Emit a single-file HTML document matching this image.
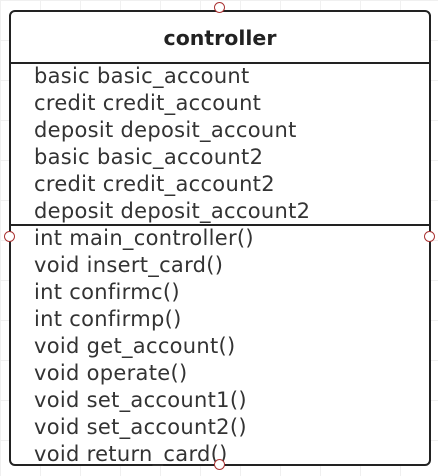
<!DOCTYPE html>
<html><head><style>
body{margin:0;width:438px;height:476px;background:#fff;overflow:hidden;font-family:"DejaVu Sans","Liberation Sans",sans-serif;}
.grid{position:absolute;left:0;top:0;width:438px;height:476px;background-image:linear-gradient(#f0f0f0 1px,transparent 1px),linear-gradient(90deg,#f0f0f0 1px,transparent 1px);background-size:40px 40px;}
.box{position:absolute;left:9px;top:10px;width:418px;height:452px;border:2px solid #222;border-radius:6px;background:#fff;}
.hd{position:absolute;left:0;top:0;width:418px;height:50px;border-bottom:2px solid #222;text-align:center;line-height:52px;font-weight:bold;font-size:20.5px;color:#222;}
.div{position:absolute;left:0;top:212px;width:418px;border-top:2px solid #222;}
.t{position:absolute;left:23px;font-size:21px;color:#333;line-height:27px;white-space:pre;letter-spacing:0.3px;}
.c{position:absolute;width:9px;height:9px;border:1.5px solid #a33;border-radius:50%;background:#fff;}
</style></head><body>
<div class="grid"></div>
<div class="box">
<div class="hd">controller</div>
<div class="t" style="top:51px">basic basic_account
credit credit_account
deposit deposit_account
basic basic_account2
credit credit_account2
deposit deposit_account2</div>
<div class="div"></div>
<div class="t" style="top:213px">int main_controller()
void insert_card()
int confirmc()
int confirmp()
void get_account()
void operate()
void set_account1()
void set_account2()
void return_card()</div>
</div>
<div class="c" style="left:214px;top:2px"></div>
<div class="c" style="left:4px;top:231px"></div>
<div class="c" style="left:424px;top:231px"></div>
<div class="c" style="left:214px;top:459px"></div>
</body></html>
